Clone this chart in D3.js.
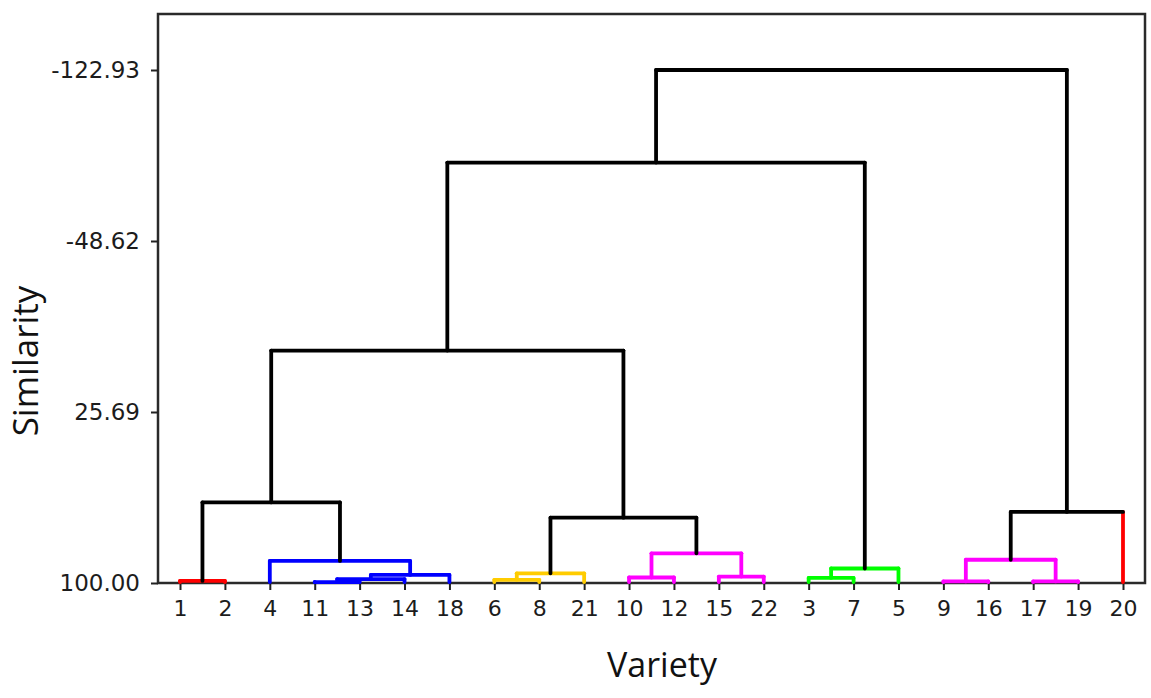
<!DOCTYPE html>
<html>
<head>
<meta charset="utf-8">
<script src="https://cdn.jsdelivr.net/npm/d3@7"></script>
<style>
  body { margin: 0; background: #fff; }
  .axis text { font-family: "DejaVu Sans", Verdana, sans-serif; fill: #1c1c1c; }
  .title { font-family: "Open Sans", sans-serif; fill: #111; }
</style>
</head>
<body>
<svg width="1151" height="698"></svg>
<script>
// leaf order along the x axis
var varieties = ["1", "2", "4", "11", "13", "14", "18", "6", "8", "21", "10", "12",
  "15", "22", "3", "7", "5", "9", "16", "17", "19", "20"];

// merge steps: node "n<i>" is created by step i
var joinA = ["1", "11", "n1", "n2", "4", "n0", "6", "n6", "10", "15", "n8", "n7",
  "n5", "3", "n13", "n12", "9", "17", "n16", "n18", "n15"];
var joinB = ["2", "13", "14", "18", "n3", "n4", "8", "21", "12", "22", "n9", "n10",
  "n11", "7", "5", "n14", "16", "19", "n17", "20", "n19"];
var joinSim = [99.1, 99.6, 98.3, 96.5, 90.4, 65.0, 98.6, 95.8, 97.6, 97.2, 87.1, 71.6,
  -1.0, 97.8, 93.7, -82.7, 99.3, 99.3, 89.9, 69.1, -122.93];

var simTicks = [100, 25.69, -48.62, -122.93];

// cluster roots and their colours
var clusterColor = {
  n0: "#ff0000", n4: "#0000ff", n7: "#ffcc00", n10: "#ff00ff",
  n14: "#00ff00", n18: "#ff00ff", "20": "#ff0000"
};

var svg = d3.select("svg"),
  margin = { top: 14, right: 6, bottom: 115, left: 158 },
  width = +svg.attr("width") - margin.left - margin.right,
  height = +svg.attr("height") - margin.top - margin.bottom;

var g = svg.append("g")
  .attr("transform", "translate(" + margin.left + "," + margin.top + ")");

var x = d3.scalePoint().domain(varieties).range([0, width]).padding(0.49);
var y = d3.scaleLinear().domain([100, -122.93]).range([height, 56]);

// frame
g.append("rect")
  .attr("width", width)
  .attr("height", height)
  .attr("fill", "none")
  .attr("stroke", "#2a2a2a")
  .attr("stroke-width", 2.5);

// node positions
var nodeX = {}, nodeSim = {}, nodeColor = {};
varieties.forEach(function(v) {
  nodeX[v] = x(v);
  nodeSim[v] = 100;
});
joinA.forEach(function(a, i) {
  var b = joinB[i];
  nodeX["n" + i] = (nodeX[a] + nodeX[b]) / 2;
  nodeSim["n" + i] = joinSim[i];
});

// colour propagates down from a cluster root
function paint(id, col) {
  if (clusterColor[id]) col = clusterColor[id];
  nodeColor[id] = col;
  if (id[0] == "n") {
    var i = +id.slice(1);
    paint(joinA[i], col);
    paint(joinB[i], col);
  }
}
paint("n" + (joinA.length - 1), "#000");

var segs = [];
joinA.forEach(function(a, i) {
  var b = joinB[i], id = "n" + i, col = nodeColor[id];
  [a, b].forEach(function(c) {
    // a singleton leaf cluster shows its colour on the stem
    var sc = (clusterColor[c] && c[0] != "n") ? clusterColor[c] : col;
    segs.push({ x1: nodeX[c], y1: nodeSim[c], x2: nodeX[c], y2: joinSim[i], c: sc });
  });
  segs.push({ x1: nodeX[a], y1: joinSim[i], x2: nodeX[b], y2: joinSim[i], c: col });
});

// axes
var xAxis = g.append("g")
  .attr("class", "axis")
  .attr("transform", "translate(0," + height + ")")
  .call(d3.axisBottom(x).tickSize(7).tickPadding(10).tickSizeOuter(0));
xAxis.select(".domain").remove();
xAxis.selectAll("text").style("font-size", "22px");
xAxis.selectAll("line").attr("stroke", "#222").attr("stroke-width", 2);

var yAxis = g.append("g")
  .attr("class", "axis")
  .call(d3.axisLeft(y).tickValues(simTicks).tickSize(7).tickPadding(11)
    .tickFormat(function(d) { return d.toFixed(2); }));
yAxis.select(".domain").remove();
yAxis.selectAll("text").style("font-size", "23px");
yAxis.selectAll("line").attr("stroke", "#222").attr("stroke-width", 2);

// baseline
g.append("line")
  .attr("x1", 0).attr("x2", width)
  .attr("y1", height).attr("y2", height)
  .attr("stroke", "#2a2a2a").attr("stroke-width", 2);

g.selectAll(".seg")
  .data(segs)
  .enter()
  .append("line")
  .attr("class", "seg")
  .attr("x1", function(d) { return d.x1; })
  .attr("x2", function(d) { return d.x2; })
  .attr("y1", function(d) { return y(d.y1) - (d.y1 == 100 ? 1 : 0); })
  .attr("y2", function(d) { return y(d.y2); })
  .attr("stroke", function(d) { return d.c; })
  .attr("stroke-width", 3.8)
  .attr("stroke-linecap", "round");

// titles
svg.append("text")
  .attr("class", "title")
  .attr("x", 662)
  .attr("y", 677)
  .attr("text-anchor", "middle")
  .style("font-size", "34px")
  .text("Variety");

svg.append("text")
  .attr("class", "title")
  .attr("transform", "translate(38,361) rotate(-90)")
  .attr("text-anchor", "middle")
  .style("font-size", "35px")
  .text("Similarity");
</script>
</body>
</html>
